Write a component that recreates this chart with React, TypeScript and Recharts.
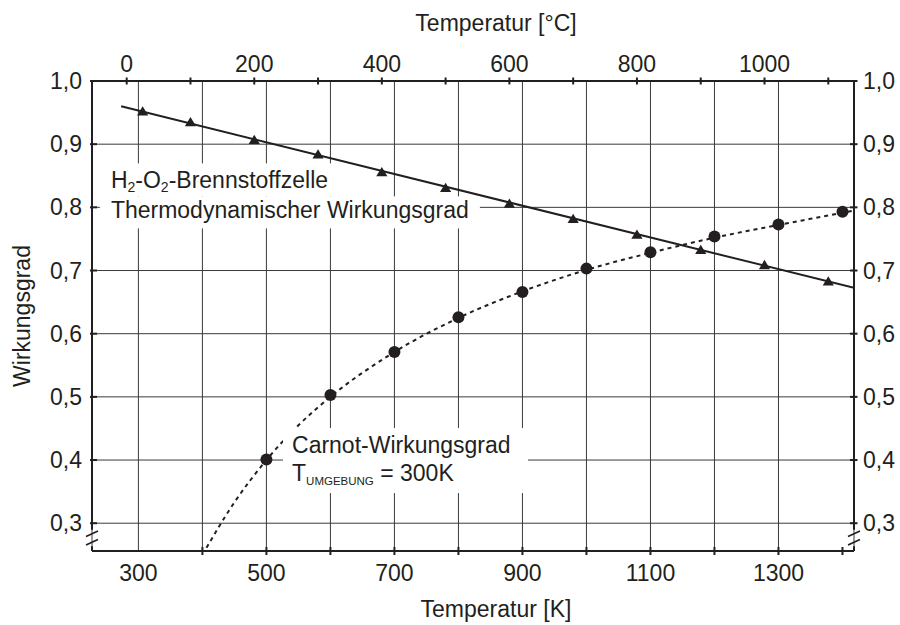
import React from 'react';
import {
  ComposedChart,
  XAxis,
  YAxis,
  CartesianGrid,
  Line,
  Scatter,
  ReferenceLine,
  ReferenceDot,
} from 'recharts';

const FONT = '"Liberation Sans", Arial, Helvetica, sans-serif';
const INK = '#231f20';
const GRID = '#3a3a3a';
const FS = 23;

// ---- axes ----
const kelvinDomain: [number, number] = [227.5, 1418];
const celsiusDomain: [number, number] = [-54.4, 1140.3];
const effDomain: [number, number] = [0.256, 1.0];

const kelvinTicks = [300, 400, 500, 600, 700, 800, 900, 1000, 1100, 1200, 1300, 1400];
const kelvinTickMarks = [400, 500, 600, 700, 800, 900, 1000, 1100, 1200, 1300, 1400];
const kelvinLabels = [300, 500, 700, 900, 1100, 1300];
const kelvinGrid = [300, 400, 500, 600, 700, 800, 900, 1000, 1100, 1200, 1300];
const celsiusTicks = [0, 100, 200, 300, 400, 500, 600, 700, 800, 900, 1000, 1100];
const celsiusLabels = [0, 200, 400, 600, 800, 1000];
const effTicks = [0.3, 0.4, 0.5, 0.6, 0.7, 0.8, 0.9, 1.0];
const axisBreakLow = 0.2635;
const axisBreakHigh = 0.2895;
const axisBreakMid = 0.2765;

// ---- series ----
const fuelCellTempC = [25, 100, 200, 300, 400, 500, 600, 700, 800, 900, 1000, 1100];
const fuelCellEff = [0.952, 0.935, 0.907, 0.884, 0.856, 0.831, 0.806, 0.782, 0.757, 0.733, 0.709, 0.683];
const fuelCellLineK = [273, 1418];
const fuelCellLineEff = [0.96, 0.6725];
const carnotTempK = [500, 600, 700, 800, 900, 1000, 1100, 1200, 1300, 1400];
const carnotEff = [0.401, 0.503, 0.571, 0.626, 0.666, 0.703, 0.729, 0.754, 0.773, 0.793];
const carnotCurveK = [400, 450, 500, 550, 600, 700, 800, 900, 1000, 1100, 1200, 1300, 1418];
const carnotCurveEff = [0.25, 0.333, 0.4, 0.455, 0.5, 0.571, 0.625, 0.667, 0.701, 0.728, 0.752, 0.772, 0.795];

// ---- annotation anchors ----
const fuelCellLabelAt = { x: 257, y: 0.83 };
const carnotLabelAt = { x: 540, y: 0.411 };

const fuelCellPoints = fuelCellTempC.map((x, i) => ({ x, y: fuelCellEff[i] }));
const fuelCellLine = fuelCellLineK.map((x, i) => ({ x, y: fuelCellLineEff[i] }));
const carnotPoints = carnotTempK.map((x, i) => ({ x, y: carnotEff[i] }));
const carnotCurve = carnotCurveK.map((x, i) => ({ x, y: carnotCurveEff[i] }));

const fmtEff = (v: number) => v.toFixed(1).replace('.', ',');

const textStyle = { fontFamily: FONT, fontSize: FS, fill: INK };

function BottomTick(props: any) {
  const { x, y, payload } = props;
  const v = payload.value;
  return (
    <g>
      {kelvinTickMarks.includes(v) && (
        <line x1={x} x2={x} y1={y - 4} y2={y + 4} stroke={INK} strokeWidth={2} />
      )}
      {kelvinLabels.includes(v) && (
        <text x={x} y={y + 30} textAnchor="middle" {...textStyle}>
          {v}
        </text>
      )}
    </g>
  );
}

function TopTick(props: any) {
  const { x, y, payload } = props;
  const v = payload.value;
  return (
    <g>
      <line x1={x} x2={x} y1={y - 3.5} y2={y + 3.5} stroke={INK} strokeWidth={2} />
      {celsiusLabels.includes(v) && (
        <text x={x} y={y - 9} textAnchor="middle" {...textStyle}>
          {v}
        </text>
      )}
    </g>
  );
}

function LeftTick(props: any) {
  const { x, y, payload } = props;
  return (
    <g>
      <line x1={x - 2} x2={x + 5} y1={y} y2={y} stroke={INK} strokeWidth={2} />
      <text x={x - 10} y={y + 8} textAnchor="end" {...textStyle}>
        {fmtEff(payload.value)}
      </text>
    </g>
  );
}

function RightTick(props: any) {
  const { x, y, payload } = props;
  return (
    <g>
      <line x1={x - 4} x2={x + 3.5} y1={y} y2={y} stroke={INK} strokeWidth={2} />
      <text x={x + 9} y={y + 8} textAnchor="start" {...textStyle}>
        {fmtEff(payload.value)}
      </text>
    </g>
  );
}

function BottomTitle(props: any) {
  const vb = props.viewBox || { x: 92, y: 551, width: 762, height: 44 };
  return (
    <text x={vb.x + vb.width / 2 + 23} y={vb.y + 66} textAnchor="middle" {...textStyle}>
      Temperatur [K]
    </text>
  );
}

function TopTitle(props: any) {
  const vb = props.viewBox || { x: 92, y: 36, width: 762, height: 45 };
  return (
    <text x={vb.x + vb.width / 2 + 23} y={vb.y - 5} textAnchor="middle" {...textStyle}>
      Temperatur [°C]
    </text>
  );
}

function LeftTitle(props: any) {
  const vb = props.viewBox || { x: 22, y: 81, width: 70, height: 470 };
  const x = vb.x + 7.5;
  const y = vb.y + vb.height / 2;
  return (
    <text x={x} y={y} textAnchor="middle" transform={`rotate(-90, ${x}, ${y})`} {...textStyle}>
      Wirkungsgrad
    </text>
  );
}

function BreakMark(props: any) {
  const { cx, cy } = props;
  return (
    <g stroke={INK} strokeWidth={1.6} fill="none">
      <line x1={cx - 6} y1={cy - 1.5} x2={cx + 6} y2={cy - 7} />
      <line x1={cx - 6} y1={cy + 7} x2={cx + 6} y2={cy + 1.5} />
    </g>
  );
}

function FuelCellLabel(props: any) {
  const { cx, cy } = props;
  return (
    <g>
      <rect x={cx - 11} y={cy - 25} width={236} height={33} fill="#fff" />
      <rect x={cx - 11} y={cy + 8} width={380} height={32} fill="#fff" />
      <text x={cx} y={cy} {...textStyle}>
        H<tspan fontSize={14} dy={4}>2</tspan>
        <tspan dy={-4}>-O</tspan>
        <tspan fontSize={14} dy={4}>2</tspan>
        <tspan dy={-4}>-Brennstoffzelle</tspan>
      </text>
      <text x={cx} y={cy + 30} {...textStyle}>
        Thermodynamischer Wirkungsgrad
      </text>
    </g>
  );
}

function CarnotLabel(props: any) {
  const { cx, cy } = props;
  return (
    <g>
      <rect x={cx - 9} y={cy - 25} width={245} height={65} fill="#fff" />
      <text x={cx} y={cy} {...textStyle}>
        Carnot-Wirkungsgrad
      </text>
      <text x={cx} y={cy + 28} {...textStyle}>
        T<tspan fontSize={11.5} dy={4}>UMGEBUNG</tspan>
        <tspan dy={-4}>{' = 300K'}</tspan>
      </text>
    </g>
  );
}

function Triangle(props: any) {
  const { cx, cy } = props;
  return (
    <polygon
      points={`${cx},${cy - 5} ${cx + 5.6},${cy + 4.3} ${cx - 5.6},${cy + 4.3}`}
      fill={INK}
    />
  );
}

function Dot(props: any) {
  const { cx, cy } = props;
  return <circle cx={cx} cy={cy} r={6} fill={INK} />;
}

export default function App() {
  const [xMin, xMax] = kelvinDomain;
  const [yMin, yMax] = effDomain;
  return (
    <div style={{ position: 'absolute', left: 0, top: 0, width: 900, height: 625, background: '#fff' }}>
      <ComposedChart
        width={900}
        height={625}
        margin={{ top: 36, right: 0, bottom: 30, left: 22 }}
      >
        <XAxis
          xAxisId="grid"
          type="number"
          dataKey="x"
          domain={kelvinDomain}
          ticks={kelvinGrid}
          allowDataOverflow
          hide
        />
        <CartesianGrid xAxisId="grid" yAxisId="left" stroke={GRID} strokeWidth={1} />
        <XAxis
          xAxisId="bottom"
          orientation="bottom"
          type="number"
          dataKey="x"
          domain={kelvinDomain}
          ticks={kelvinTicks}
          interval={0}
          allowDataOverflow
          axisLine={false}
          tickLine={false}
          tickSize={0}
          tickMargin={0}
          height={44}
          tick={<BottomTick />}
          label={<BottomTitle />}
        />
        <XAxis
          xAxisId="top"
          orientation="top"
          type="number"
          dataKey="x"
          domain={celsiusDomain}
          ticks={celsiusTicks}
          interval={0}
          allowDataOverflow
          axisLine={false}
          tickLine={false}
          tickSize={0}
          tickMargin={0}
          height={45}
          tick={<TopTick />}
          label={<TopTitle />}
        />
        <YAxis
          yAxisId="left"
          orientation="left"
          type="number"
          dataKey="y"
          domain={effDomain}
          ticks={effTicks}
          interval={0}
          allowDataOverflow
          axisLine={false}
          tickLine={false}
          tickSize={0}
          tickMargin={0}
          width={70}
          tick={<LeftTick />}
          label={<LeftTitle />}
        />
        <YAxis
          yAxisId="right"
          orientation="right"
          type="number"
          dataKey="y"
          domain={effDomain}
          ticks={effTicks}
          interval={0}
          allowDataOverflow
          axisLine={false}
          tickLine={false}
          tickSize={0}
          tickMargin={0}
          width={46}
          tick={<RightTick />}
        />

        <ReferenceDot
          xAxisId="bottom"
          yAxisId="left"
          x={fuelCellLabelAt.x}
          y={fuelCellLabelAt.y}
          ifOverflow="visible"
          shape={(p: any) => <FuelCellLabel {...p} />}
        />
        <ReferenceDot
          xAxisId="bottom"
          yAxisId="left"
          x={carnotLabelAt.x}
          y={carnotLabelAt.y}
          ifOverflow="visible"
          shape={(p: any) => <CarnotLabel {...p} />}
        />

        {/* frame */}
        <ReferenceLine xAxisId="bottom" yAxisId="left" y={yMax} stroke={INK} strokeWidth={2} ifOverflow="visible" />
        <ReferenceLine xAxisId="bottom" yAxisId="left" y={yMin} stroke={INK} strokeWidth={2} ifOverflow="visible" />
        <ReferenceLine
          xAxisId="bottom"
          yAxisId="left"
          segment={[{ x: xMin, y: axisBreakHigh }, { x: xMin, y: yMax }]}
          stroke={INK}
          strokeWidth={2}
          ifOverflow="visible"
        />
        <ReferenceLine
          xAxisId="bottom"
          yAxisId="left"
          segment={[{ x: xMin, y: yMin }, { x: xMin, y: axisBreakLow }]}
          stroke={INK}
          strokeWidth={2}
          ifOverflow="visible"
        />
        <ReferenceLine
          xAxisId="bottom"
          yAxisId="left"
          segment={[{ x: xMax, y: axisBreakHigh }, { x: xMax, y: yMax }]}
          stroke={INK}
          strokeWidth={2}
          ifOverflow="visible"
        />
        <ReferenceLine
          xAxisId="bottom"
          yAxisId="left"
          segment={[{ x: xMax, y: yMin }, { x: xMax, y: axisBreakLow }]}
          stroke={INK}
          strokeWidth={2}
          ifOverflow="visible"
        />
        <ReferenceDot
          xAxisId="bottom"
          yAxisId="left"
          x={xMin}
          y={axisBreakMid}
          ifOverflow="visible"
          shape={(p: any) => <BreakMark {...p} />}
        />
        <ReferenceDot
          xAxisId="bottom"
          yAxisId="left"
          x={xMax}
          y={axisBreakMid}
          ifOverflow="visible"
          shape={(p: any) => <BreakMark {...p} />}
        />

        <Line
          xAxisId="bottom"
          yAxisId="left"
          data={carnotCurve}
          dataKey="y"
          type="monotone"
          stroke={INK}
          strokeWidth={2}
          strokeDasharray="4 4"
          dot={false}
          activeDot={false}
          isAnimationActive={false}
        />
        <Line
          xAxisId="bottom"
          yAxisId="left"
          data={fuelCellLine}
          dataKey="y"
          type="linear"
          stroke={INK}
          strokeWidth={2}
          dot={false}
          activeDot={false}
          isAnimationActive={false}
        />
        <Scatter
          xAxisId="top"
          yAxisId="left"
          data={fuelCellPoints}
          dataKey="y"
          shape={(p: any) => <Triangle {...p} />}
          isAnimationActive={false}
        />
        <Scatter
          xAxisId="bottom"
          yAxisId="left"
          data={carnotPoints}
          dataKey="y"
          shape={(p: any) => <Dot {...p} />}
          isAnimationActive={false}
        />
      </ComposedChart>
    </div>
  );
}
